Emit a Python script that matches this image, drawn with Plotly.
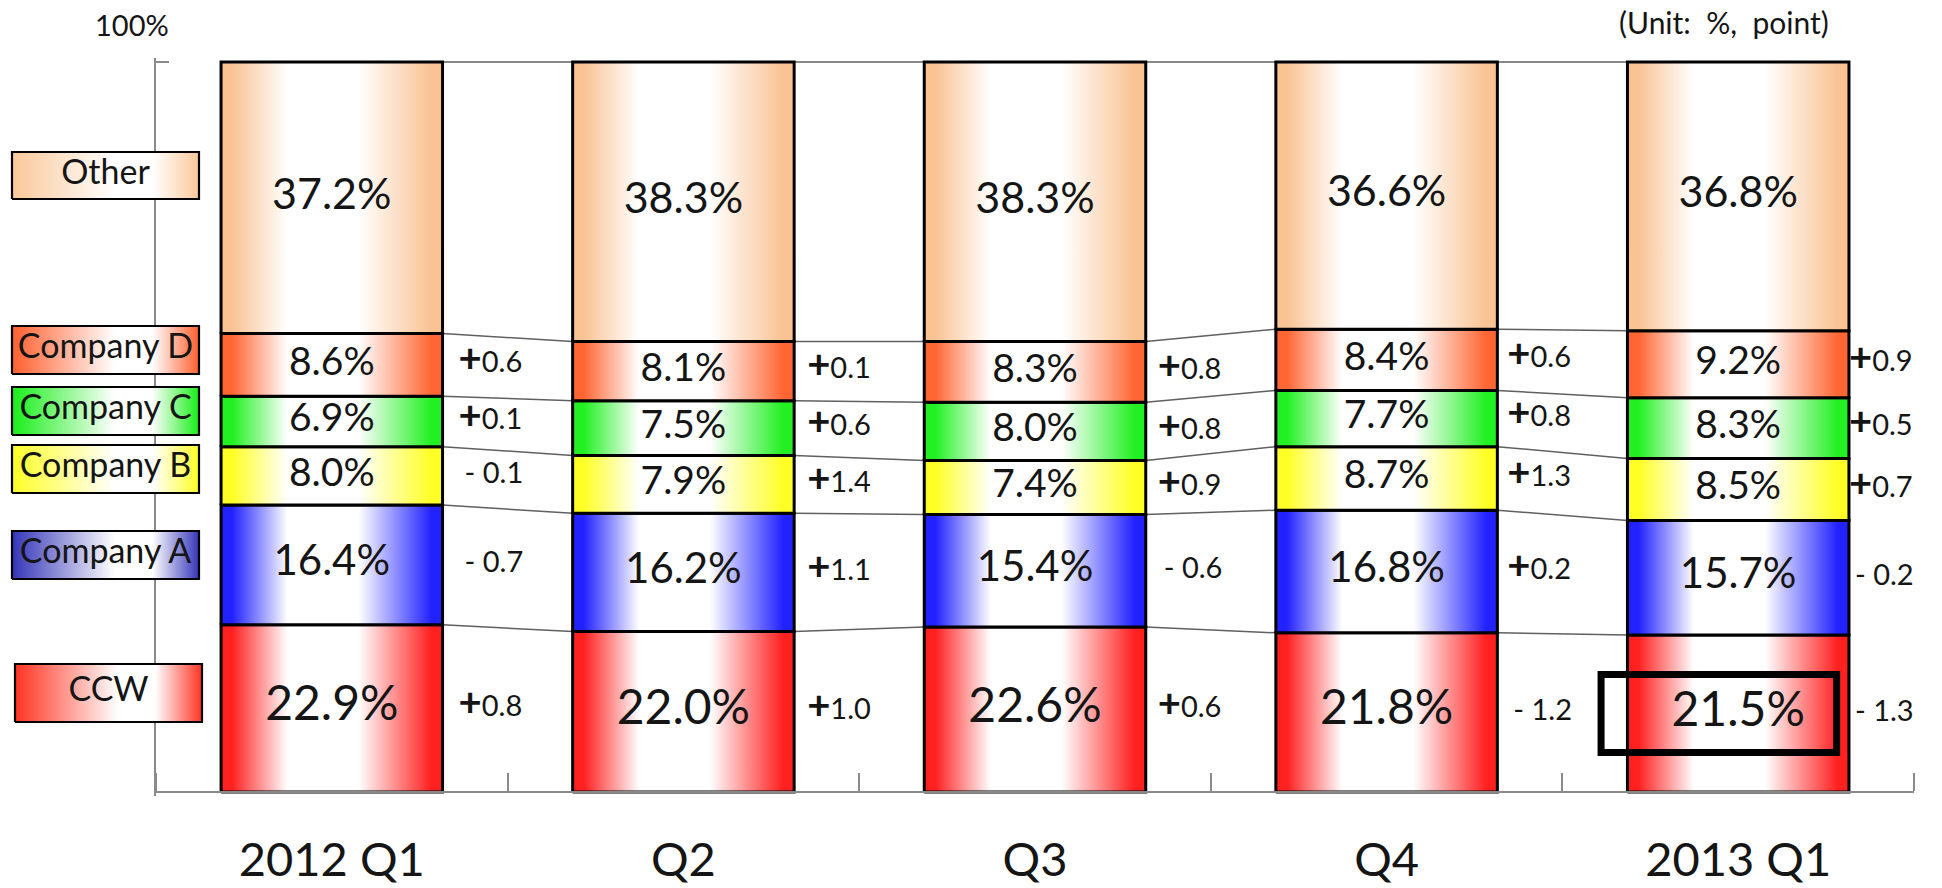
import plotly.graph_objects as go

# ---------------- data ----------------
quarters = ["2012 Q1", "Q2", "Q3", "Q4", "2013 Q1"]
series = ["CCW", "Company A", "Company B", "Company C", "Company D", "Other"]

ccw = [22.9, 22.0, 22.6, 21.8, 21.5]
company_a = [16.4, 16.2, 15.4, 16.8, 15.7]
company_b = [8.0, 7.9, 7.4, 8.7, 8.5]
company_c = [6.9, 7.5, 8.0, 7.7, 8.3]
company_d = [8.6, 8.1, 8.3, 8.4, 9.2]
other = [37.2, 38.3, 38.3, 36.6, 36.8]

ccw_change = [0.8, 1.0, 0.6, -1.2, -1.3]
company_a_change = [-0.7, 1.1, -0.6, 0.2, -0.2]
company_b_change = [-0.1, 1.4, 0.9, 1.3, 0.7]
company_c_change = [0.1, 0.6, 0.8, 0.8, 0.5]
company_d_change = [0.6, 0.1, 0.8, 0.6, 0.9]

highlight_series = "CCW"
highlight_index = 4

values = {"CCW": ccw, "Company A": company_a, "Company B": company_b,
          "Company C": company_c, "Company D": company_d, "Other": other}
changes = {"CCW": ccw_change, "Company A": company_a_change, "Company B": company_b_change,
           "Company C": company_c_change, "Company D": company_d_change}

# ---------------- styles / layout ----------------
W, H = 1942, 888
PX_LEFT, PX_RIGHT = 156, 1914
PX_TOP, PX_BOTTOM = 62, 792
YPAD = 0.5
BAR_W = 0.63
FONT = "Lato"
TXT = "#151515"
AXIS_COLOR = "#8a8a8a"

bar_colors = {"CCW": "#FF2020", "Company A": "#2222FF", "Company B": "#FFFF26",
              "Company C": "#22F022", "Company D": "#FF6633", "Other": "#F9C394"}
legend_colors = {"CCW": "#FF3322", "Company A": "#3535B8", "Company B": "#FFFF26",
                 "Company C": "#18EE18", "Company D": "#FF5F2E", "Other": "#FAC89A"}
label_sizes = {"CCW": 48, "Company A": 42, "Company B": 39, "Company C": 39,
               "Company D": 39, "Other": 43}
# legend boxes: x0, x1, y-center, height (pixels)
legend_boxes = {"Other": (12, 199, 175.5, 47), "Company D": (12, 199, 350, 48),
                "Company C": (12, 199, 411, 48), "Company B": (12, 199, 469, 48),
                "Company A": (12, 199, 555, 48), "CCW": (15, 202, 693, 58)}
change_offset_px = [16, 13, 12, 10, 0]
neg_extra_px = 6

ppu = (PX_BOTTOM - PX_TOP) / 100.0
cat_px = (PX_RIGHT - PX_LEFT) / len(quarters)
y_dom = [1 - (PX_BOTTOM + YPAD * ppu) / H, 1 - (PX_TOP - YPAD * ppu) / H]
X2_W = 214


def bar_scale(c):
    return [[0, c], [0.05, c], [0.3, "#FFFFFF"], [0.62, "#FFFFFF"], [0.95, c], [1, c]]


def legend_scale(c):
    return [[0, c], [0.55, "#FFFFFF"], [0.75, "#FFFFFF"], [1, c]]


fig = go.Figure()

# cumulative bounds
n = len(quarters)
bottoms = {}
tops = {}
for i in range(n):
    acc = 0.0
    for s in series:
        bottoms.setdefault(s, []).append(acc)
        acc += values[s][i]
        tops.setdefault(s, []).append(acc)

hw = BAR_W / 2

# connector lines between bars
cx, cy = [], []
for i in range(n - 1):
    for s in series:
        cx += [i + hw, i + 1 - hw, None]
        cy += [tops[s][i], tops[s][i + 1], None]
fig.add_trace(go.Scatter(x=cx, y=cy, mode="lines", line=dict(color="#606060", width=1.5),
                         hoverinfo="skip", showlegend=False))

# stacked bar segments with horizontal gradients
for s in series:
    for i in range(n):
        x0, x1 = i - hw, i + hw
        y0, y1 = bottoms[s][i], tops[s][i]
        fig.add_trace(go.Scatter(
            x=[x0, x1, x1, x0, x0], y=[y0, y0, y1, y1, y0], mode="lines",
            fill="toself",
            fillgradient=dict(type="horizontal", colorscale=bar_scale(bar_colors[s])),
            line=dict(color="black", width=3), hoverinfo="skip", showlegend=False))

# segment value labels
for s in series:
    fig.add_trace(go.Scatter(
        x=list(range(n)), y=[(b + t) / 2 for b, t in zip(bottoms[s], tops[s])],
        mode="text", text=[f"{v:.1f}%" for v in values[s]], textposition="middle center",
        textfont=dict(family=FONT, size=label_sizes[s], color=TXT),
        cliponaxis=False, hoverinfo="skip", showlegend=False))


def fmt_change(v):
    if v >= 0:
        return f"<span style='font-size:40px'><b>+</b></span>{v:.1f}"
    return f"- {abs(v):.1f}"


# change labels to the right of each bar
for s, ch in changes.items():
    fig.add_trace(go.Scatter(
        x=[i + hw + (change_offset_px[i] + (neg_extra_px if ch[i] < 0 else 0)) / cat_px
           for i in range(n)],
        y=[(b + t) / 2 for b, t in zip(bottoms[s], tops[s])],
        mode="text", text=[fmt_change(v) for v in ch], textposition="middle right",
        textfont=dict(family=FONT, size=29, color=TXT),
        cliponaxis=False, hoverinfo="skip", showlegend=False))

# legend boxes (second subplot on the left)
for s in series:
    x0, x1, yc, h = legend_boxes[s]
    yc_d = (PX_BOTTOM - yc) / ppu
    hh = h / ppu / 2
    fig.add_trace(go.Scatter(
        x=[x0, x1, x1, x0, x0], y=[yc_d - hh, yc_d - hh, yc_d + hh, yc_d + hh, yc_d - hh],
        mode="lines", fill="toself",
        fillgradient=dict(type="horizontal", colorscale=legend_scale(legend_colors[s])),
        line=dict(color="black", width=2.2), xaxis="x2", yaxis="y2",
        hoverinfo="skip", showlegend=False))
    fig.add_trace(go.Scatter(
        x=[(x0 + x1) / 2], y=[yc_d], mode="text", text=[s], textposition="middle center",
        textfont=dict(family=FONT, size=34, color=TXT), xaxis="x2", yaxis="y2",
        cliponaxis=False, hoverinfo="skip", showlegend=False))

# highlight box
hi = highlight_index
hc = bottoms[highlight_series][hi] + values[highlight_series][hi] / 2
fig.add_shape(type="rect", xref="x", yref="y", x0=hi - 0.39, x1=hi + 0.28,
              y0=hc - 5.35, y1=hc + 5.35, line=dict(color="black", width=7),
              fillcolor="rgba(0,0,0,0)")

fig.add_annotation(text="100%", xref="paper", yref="paper", x=132 / W, y=1 - 25 / H,
                   showarrow=False, font=dict(family=FONT, size=29, color=TXT),
                   xanchor="center", yanchor="middle")
fig.add_annotation(text="(Unit:\u00a0 %,\u00a0 point)", xref="paper", yref="paper",
                   x=1724 / W, y=1 - 22 / H, showarrow=False,
                   font=dict(family=FONT, size=30, color=TXT),
                   xanchor="center", yanchor="middle")

fig.update_layout(
    width=W, height=H, margin=dict(l=0, r=0, t=0, b=0),
    paper_bgcolor="white", plot_bgcolor="rgba(0,0,0,0)", showlegend=False,
    hovermode=False,
    xaxis=dict(domain=[PX_LEFT / W, PX_RIGHT / W], range=[-0.5, n - 0.5],
               tickmode="array", tickvals=list(range(n)), ticktext=quarters, ticks="",
               tickfont=dict(family=FONT, size=47, color=TXT), ticklabelstandoff=27,
               showline=True, linecolor=AXIS_COLOR, linewidth=1.5,
               anchor="free", position=1 - PX_BOTTOM / H,
               showgrid=False, zeroline=False, automargin=False,
               minor=dict(tickmode="array", tickvals=[i - 0.5 for i in range(n + 1)],
                          ticks="inside", ticklen=18, tickwidth=1.5, tickcolor=AXIS_COLOR)),
    yaxis=dict(domain=y_dom, range=[-YPAD, 100 + YPAD], tickmode="array", tickvals=[100],
               ticks="inside", ticklen=13, tickwidth=1.5, tickcolor=AXIS_COLOR,
               showticklabels=False, showline=True, linecolor=AXIS_COLOR, linewidth=1.5,
               showgrid=False, zeroline=False, automargin=False),
    xaxis2=dict(domain=[0, X2_W / W], range=[0, X2_W], visible=False, anchor="y2"),
    yaxis2=dict(domain=y_dom, range=[-YPAD, 100 + YPAD], visible=False, anchor="x2"),
)

fig.write_html("out.html")
